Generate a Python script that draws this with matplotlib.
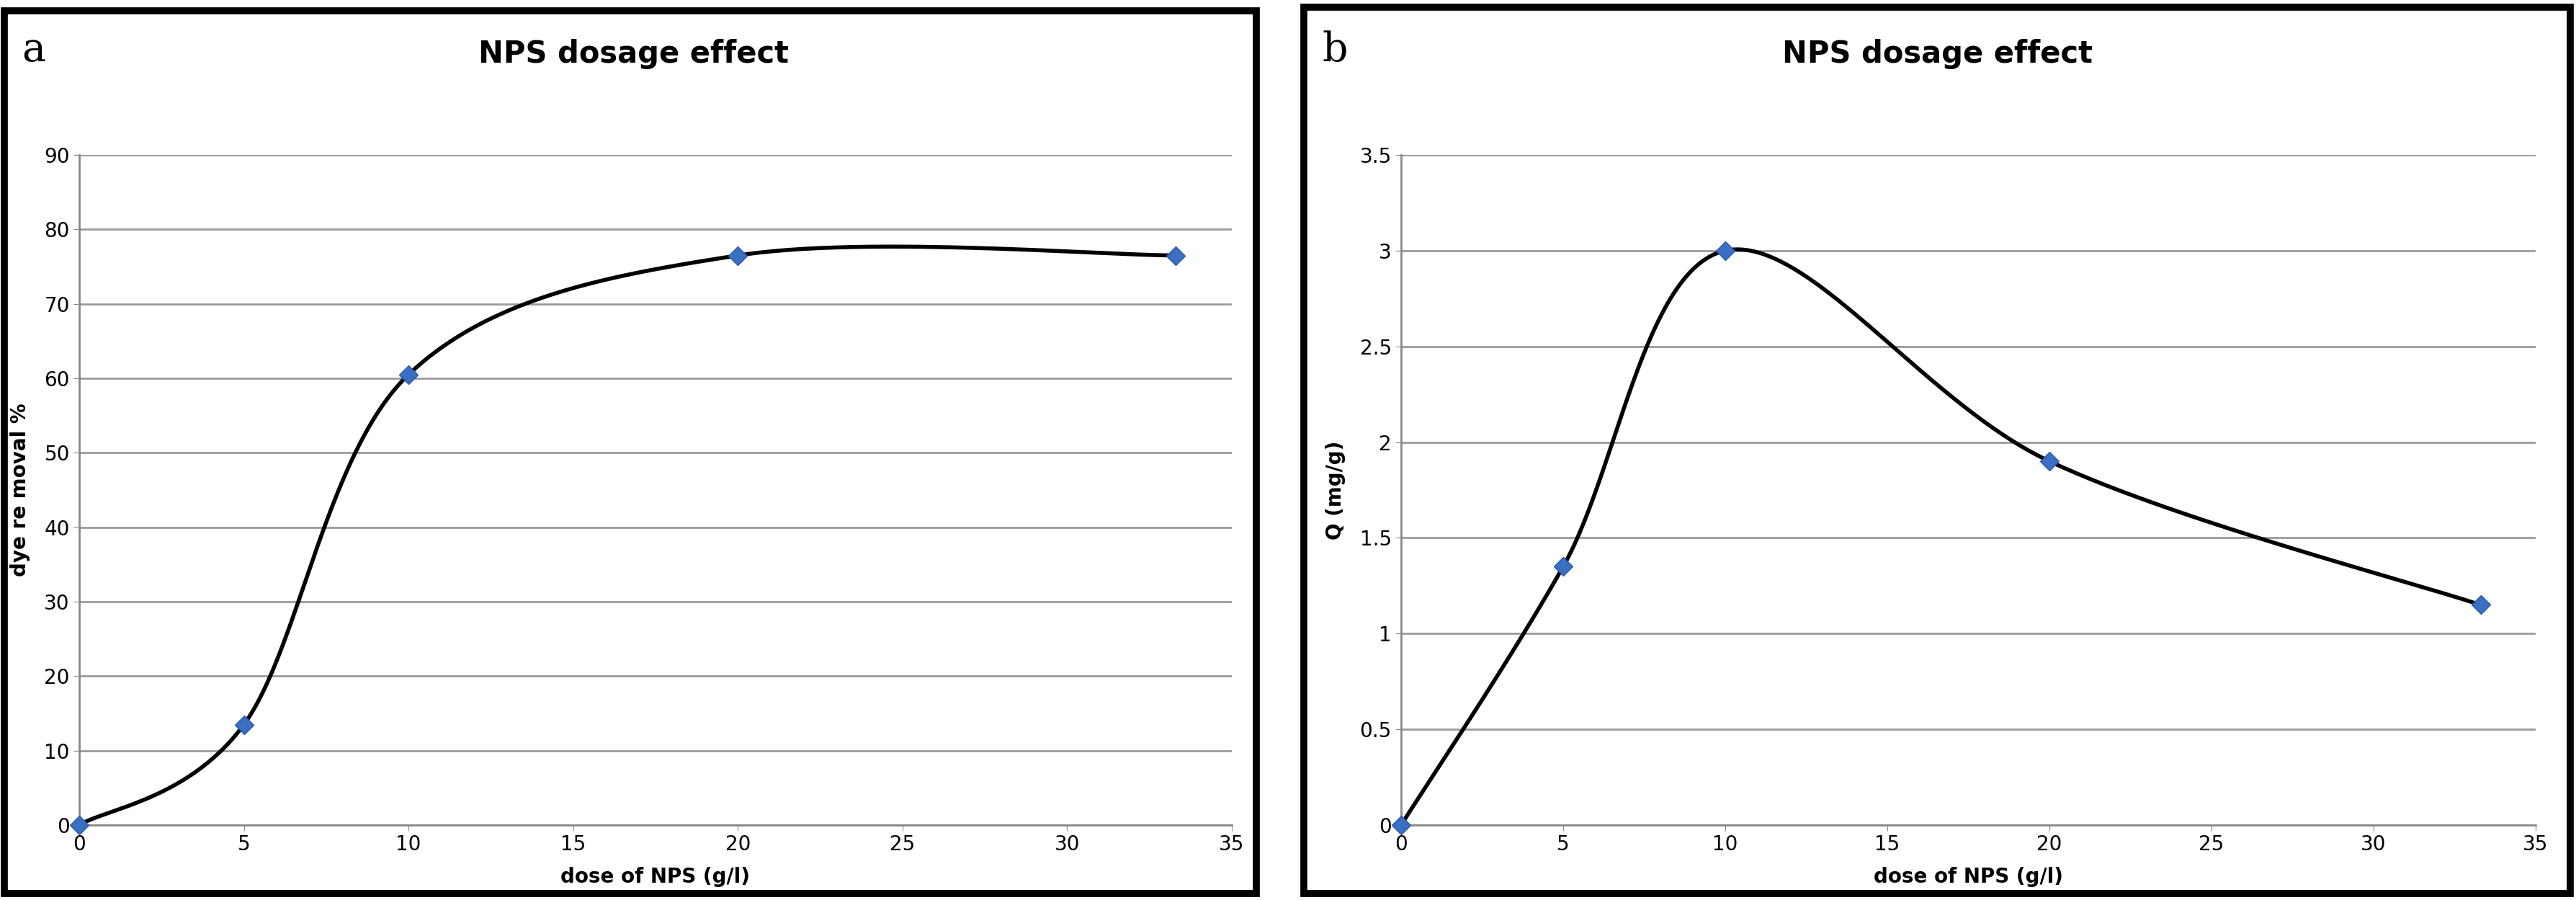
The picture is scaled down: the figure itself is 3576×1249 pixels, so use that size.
import numpy as np
import matplotlib
matplotlib.use("Agg")
import matplotlib.pyplot as plt
from matplotlib.patches import Rectangle

dose = [0, 5, 10, 20, 33.3]
removal = [0, 13.5, 60.5, 76.5, 76.5]
q = [0, 1.35, 3.0, 1.9, 1.15]

def smooth(x, y, n=60):
    x = np.asarray(x, float); y = np.asarray(y, float)
    px = np.concatenate([[x[0]], x, [x[-1]]]); py = np.concatenate([[y[0]], y, [y[-1]]])
    X, Y = [], []
    t = np.linspace(0, 1, n)[:, None]
    for i in range(1, len(px) - 2):
        p0 = np.array([px[i], py[i]]); p3 = np.array([px[i+1], py[i+1]])
        p1 = p0 + (np.array([px[i+1], py[i+1]]) - np.array([px[i-1], py[i-1]])) / 6
        p2 = p3 - (np.array([px[i+2], py[i+2]]) - np.array([px[i], py[i]])) / 6
        b = (1-t)**3*p0 + 3*(1-t)**2*t*p1 + 3*(1-t)*t**2*p2 + t**3*p3
        X.extend(b[:, 0]); Y.extend(b[:, 1])
    return X, Y

W, H = 3576, 1249
fig = plt.figure(figsize=(W/100, H/100), dpi=100)
fig.patches.append(Rectangle((6/W, 9/H), 1738/W, 1225/H, transform=fig.transFigure,
                             fill=False, lw=7, ec='black'))
fig.patches.append(Rectangle((1810/W, 9/H), 1758/W, 1230/H, transform=fig.transFigure,
                             fill=False, lw=7, ec='black'))

specs = [
    (110, 1710, dose, removal, 90, 10, 'dye re moval %', 'a', 30, 880, None),
    (1945, 3520, dose, q, 3.5, 0.5, 'Q (mg/g)', 'b', 1835, 2690, None),
]
for l, r, x, y, ymax, step, ylab, tag, tx, ttx, _ in specs:
    ax = fig.add_axes([l/W, (H-1145)/H, (r-l)/W, (1145-215)/H])
    sx, sy = smooth(x, y)
    ax.plot(sx, sy, color='black', lw=4, zorder=3)
    ax.plot(x, y, 'D', color='#3a6fc4', ms=13, mec='#2a5aa8', zorder=4, clip_on=False)
    ax.set_xlim(0, 35); ax.set_ylim(0, ymax)
    ax.set_xticks(range(0, 36, 5))
    yt = np.arange(0, ymax + step/2, step)
    ax.set_yticks(yt)
    ax.set_yticklabels([('%g' % v) for v in yt])
    ax.yaxis.grid(True, color='#9a9a9a', lw=2)
    ax.set_axisbelow(True)
    for s in ['top', 'right']:
        ax.spines[s].set_visible(False)
    for s in ['left', 'bottom']:
        ax.spines[s].set_color('#888888'); ax.spines[s].set_linewidth(2)
    ax.tick_params(labelsize=20, length=6, color='#888888')
    ax.set_xlabel('dose of NPS (g/l)', fontsize=20, fontweight='bold', labelpad=12)
    ax.set_ylabel(ylab, fontsize=20, fontweight='bold', labelpad=14)
    fig.text(tx/W, 1-70/H, tag, fontsize=40, family='DejaVu Serif', va='center')
    fig.text(ttx/W, 1-75/H, 'NPS dosage effect', fontsize=30, fontweight='bold',
             ha='center', va='center')

fig.savefig('out.png', dpi=100)
